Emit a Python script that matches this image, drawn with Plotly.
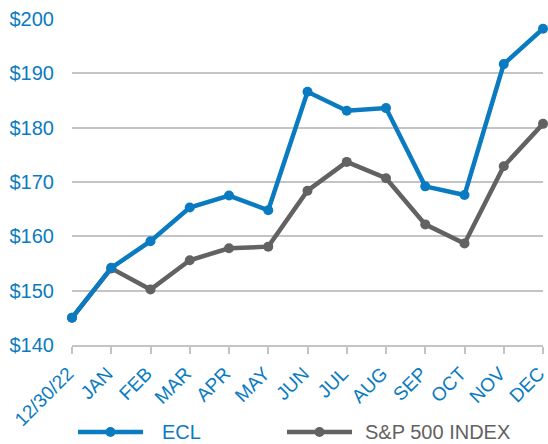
import plotly.graph_objects as go

# Month-end values of a $100 investment (indexed), 12/30/22 through December
periods = ["12/30/22", "JAN", "FEB", "MAR", "APR", "MAY", "JUN",
           "JUL", "AUG", "SEP", "OCT", "NOV", "DEC"]
ecl = [145.0, 154.2, 159.1, 165.3, 167.5, 164.8, 186.6,
       183.1, 183.6, 169.2, 167.6, 191.7, 198.2]
sp500 = [145.0, 154.1, 150.2, 155.6, 157.8, 158.1, 168.4,
         173.7, 170.7, 162.2, 158.7, 172.9, 180.7]
y_ticks = [140, 150, 160, 170, 180, 190, 200]

BLUE = "#0a7bc1"
GREY = "#626262"
FONT = "Liberation Sans, Arial, sans-serif"
FS = 20

x = list(range(len(periods)))

fig = go.Figure()
fig.add_trace(go.Scatter(
    x=x, y=sp500, name="S&P 500 INDEX", mode="lines+markers",
    line=dict(color=GREY, width=4.5), marker=dict(size=10, color=GREY),
    cliponaxis=False, showlegend=False,
))
fig.add_trace(go.Scatter(
    x=x, y=ecl, name="ECL", mode="lines+markers",
    line=dict(color=BLUE, width=4.5), marker=dict(size=10, color=BLUE),
    cliponaxis=False, showlegend=False,
))

# Legend drawn below the axis: long line sample with a centred dot, then label
legend_items = [("ECL", BLUE, 0.0127, 0.1507, 0.1868),
                ("S&P 500 INDEX", GREY, 0.4565, 0.5945, 0.618)]
LEG_Y = -0.267
shapes, annotations = [], []
for label, color, x0, x1, xt in legend_items:
    shapes.append(dict(type="line", xref="paper", yref="paper",
                       x0=x0, x1=x1, y0=LEG_Y, y1=LEG_Y,
                       line=dict(color=color, width=4.5)))
    shapes.append(dict(type="circle", xref="paper", yref="paper",
                       xsizemode="pixel", ysizemode="pixel",
                       xanchor=(x0 + x1) / 2, yanchor=LEG_Y,
                       x0=-5, x1=5, y0=-5, y1=5,
                       fillcolor=color, line=dict(color=color, width=0)))
    annotations.append(dict(text=label, xref="paper", yref="paper",
                            x=xt, y=LEG_Y, xanchor="left", yanchor="middle",
                            showarrow=False,
                            font=dict(family=FONT, size=FS, color=color)))

fig.update_layout(
    width=548, height=444,
    margin=dict(l=72, r=5, t=19, b=99),
    paper_bgcolor="white", plot_bgcolor="white",
    font=dict(family=FONT, size=FS, color=BLUE),
    showlegend=False,
    shapes=shapes, annotations=annotations,
)
fig.update_xaxes(
    range=[-0.0001, 12.0001], tickmode="array", tickvals=x, ticktext=periods,
    tickangle=-45, showgrid=False, zeroline=False, automargin=False,
    ticklabeloverflow="allow", ticklabelshift=-4, ticklabelstandoff=1,
    showline=True, linecolor="#c4c4c4", linewidth=2,
    ticks="outside", ticklen=7, tickcolor="#c4c4c4", tickwidth=2,
    tickfont=dict(size=19, color=BLUE),
)
fig.update_yaxes(
    range=[140, 200], tickmode="array", tickvals=y_ticks,
    ticktext=[f"${v}" for v in y_ticks], automargin=False,
    showgrid=True, gridcolor="#c4c4c4", gridwidth=2, zeroline=False,
    showline=False, ticks="", ticklabelstandoff=17,
    tickfont=dict(size=FS, color=BLUE),
)

fig.write_html("out.html")
